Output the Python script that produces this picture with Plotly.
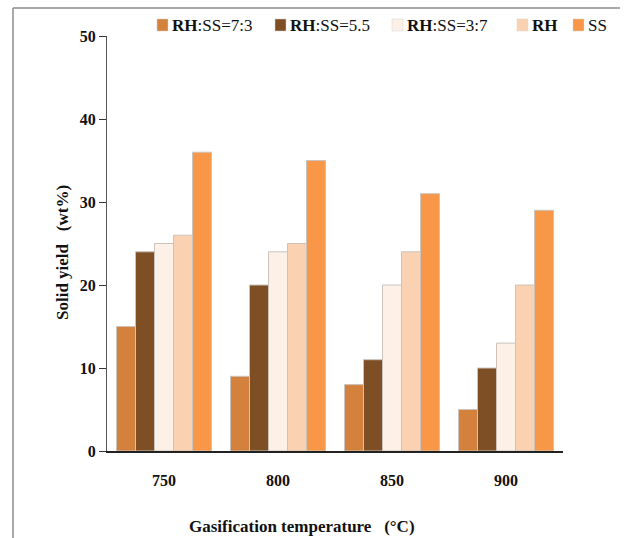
import plotly.graph_objects as go

# ---- data ----
categories = ["750", "800", "850", "900"]
series_names = ["RH:SS=7:3", "RH:SS=5.5", "RH:SS=3:7", "RH", "SS"]
legend_labels = ["<b>RH</b>:SS=7:3", "<b>RH</b>:SS=5.5", "<b>RH</b>:SS=3:7", "<b>RH</b>", "SS"]
vals_73 = [15, 9, 8, 5]
vals_55 = [24, 20, 11, 10]
vals_37 = [25, 24, 20, 13]
vals_rh = [26, 25, 24, 20]
vals_ss = [36, 35, 31, 29]
series_values = [vals_73, vals_55, vals_37, vals_rh, vals_ss]
y_ticks = [0, 10, 20, 30, 40, 50]

# ---- styles ----
colors = ["#D4813D", "#7E4E24", "#FDF1E7", "#FAD2B2", "#F79747"]
FONT = "Times New Roman, Liberation Serif, Tinos, DejaVu Serif, serif"
W, H = 636, 538
L, R, T, B = 107, 73, 36, 87
PW, PH = W - L - R, H - T - B


def px_x(px):
    return (px - L) / PW


def px_y(py):
    return (H - B - py) / PH


fig = go.Figure()
for name, vals, col in zip(series_names, series_values, colors):
    fig.add_trace(go.Bar(
        name=name, x=categories, y=vals,
        marker=dict(color=col, line=dict(color="#CBC3BC", width=1)),
        showlegend=False,
    ))

shapes = []
annotations = []

# custom legend
legend_swatch_px = [157, 275, 392, 517, 573]
for sx, lab, col in zip(legend_swatch_px, legend_labels, colors):
    shapes.append(dict(type="rect", xref="paper", yref="paper",
                       x0=px_x(sx), x1=px_x(sx + 11), y0=px_y(31), y1=px_y(19),
                       fillcolor=col, line=dict(color="#D8D0C8", width=0.5)))
    annotations.append(dict(text=lab, xref="paper", yref="paper",
                            x=px_x(sx + 13), y=px_y(25.5), xanchor="left", yanchor="middle",
                            showarrow=False, font=dict(family=FONT, size=17, color="#111")))

# frame lines
shapes.append(dict(type="line", xref="paper", yref="paper",
                   x0=px_x(13), x1=px_x(620), y0=px_y(8), y1=px_y(8),
                   line=dict(color="#8C8C8C", width=1.5)))
shapes.append(dict(type="line", xref="paper", yref="paper",
                   x0=px_x(13), x1=px_x(13), y0=px_y(8), y1=px_y(540),
                   line=dict(color="#8C8C8C", width=1.5)))

# axis titles
annotations.append(dict(text="<b>Solid yield\u00a0\u00a0\u00a0(wt%)</b>", xref="paper", yref="paper",
                        x=px_x(62.5), y=px_y(252.5), xanchor="center", yanchor="middle",
                        textangle=-90, showarrow=False,
                        font=dict(family=FONT, size=17, color="#111")))
annotations.append(dict(text="<b>Gasification temperature\u00a0\u00a0\u00a0(°C)</b>", xref="paper", yref="paper",
                        x=px_x(301.5), y=px_y(526), xanchor="center", yanchor="middle",
                        showarrow=False,
                        font=dict(family=FONT, size=17, color="#111")))

fig.update_layout(
    width=W, height=H,
    margin=dict(l=L, r=R, t=T, b=B, pad=0),
    paper_bgcolor="white", plot_bgcolor="white",
    barmode="group", bargap=1 / 6, bargroupgap=0,
    shapes=shapes, annotations=annotations,
    font=dict(family=FONT, color="#111"),
)
fig.update_xaxes(
    type="category", range=[-0.5, 3.5],
    showline=True, linecolor="#222", linewidth=1.5,
    ticks="outside", ticklen=14, tickcolor="rgba(0,0,0,0)",
    tickfont=dict(family=FONT, size=16, weight="bold", color="#111"),
    showgrid=False, zeroline=False, fixedrange=True,
)
fig.update_yaxes(
    range=[0, 50], tickvals=y_ticks, ticktext=[str(v) for v in y_ticks],
    showline=True, linecolor="#555", linewidth=1.3,
    ticks="outside", ticklen=7, tickwidth=1.3, tickcolor="#333",
    tickfont=dict(family=FONT, size=16, weight="bold", color="#111"),
    showgrid=False, zeroline=False, fixedrange=True,
)

fig.write_html(
    "out.html",
    config={"displayModeBar": False},
    post_script="document.body.style.margin='0';document.body.style.overflow='hidden';",
)
